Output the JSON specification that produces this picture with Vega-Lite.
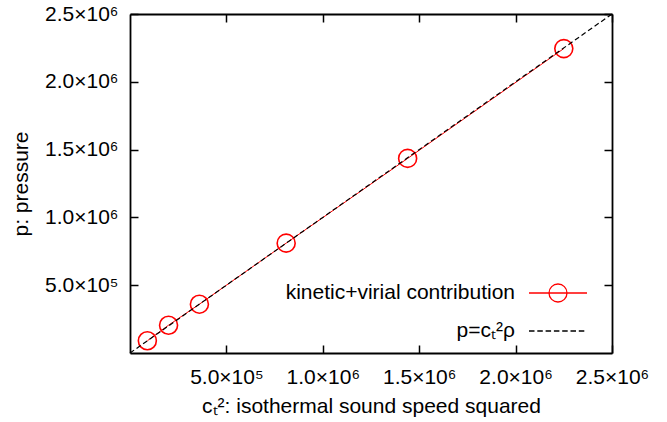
{
  "$schema": "https://vega.github.io/schema/vega-lite/v6.json",
  "autosize": {"type": "none"},
  "padding": {"left": 130, "top": 14, "right": 55, "bottom": 69},
  "width": 482,
  "height": 339,
  "background": "white",
  "datasets": {
    "pts": [
      {"c2": 90000, "p": 90000},
      {"c2": 200000, "p": 205000},
      {"c2": 360000, "p": 360000},
      {"c2": 810000, "p": 810000},
      {"c2": 1440000, "p": 1435000},
      {"c2": 2250000, "p": 2245000}
    ],
    "ref": [
      {"c2": 0, "p": 0},
      {"c2": 2500000, "p": 2500000}
    ],
    "leg": [
      {"series": "kinetic+virial contribution"},
      {"series": "p=cₜ²ρ"}
    ]
  },
  "config": {
    "view": {"stroke": null},
    "axis": {
      "grid": false,
      "domainColor": "black",
      "domainWidth": 1.8,
      "tickColor": "black",
      "tickWidth": 1.5,
      "tickSize": -8,
      "labelFont": "Liberation Sans",
      "labelFontSize": 21,
      "labelColor": "black",
      "titleFont": "Liberation Sans",
      "titleFontSize": 21,
      "titleFontWeight": "normal",
      "titleColor": "black"
    },
    "legend": {
      "labelFont": "Liberation Sans",
      "labelFontSize": 21,
      "labelColor": "black"
    }
  },
  "resolve": {"axis": {"x": "independent", "y": "independent"}},
  "layer": [
    {
      "data": {"name": "pts"},
      "mark": {"type": "line", "color": "#ff0000", "strokeWidth": 1},
      "encoding": {
        "x": {
          "field": "c2", "type": "quantitative",
          "scale": {"domain": [0, 2500000], "nice": false, "zero": false},
          "axis": {
            "orient": "bottom",
            "values": [500000, 1000000, 1500000, 2000000, 2500000],
            "labelExpr": "datum.value < 900000 ? format(datum.value/100000, '.1f') + '×10⁵' : format(datum.value/1000000, '.1f') + '×10⁶'",
            "labelBaseline": "alphabetic",
            "labelPadding": 38,
            "labelFlush": false,
            "labelOverlap": false,
            "title": "cₜ²: isothermal sound speed squared",
            "titleBaseline": "alphabetic",
            "titleY": 59
          }
        },
        "y": {
          "field": "p", "type": "quantitative",
          "scale": {"domain": [0, 2500000], "nice": false, "zero": false},
          "axis": {
            "orient": "left",
            "values": [500000, 1000000, 1500000, 2000000, 2500000],
            "labelExpr": "datum.value < 900000 ? format(datum.value/100000, '.1f') + '×10⁵' : format(datum.value/1000000, '.1f') + '×10⁶'",
            "labelPadding": 20,
            "labelFlush": false,
            "labelOverlap": false,
            "labelBaseline": "middle",
            "title": "p: pressure",
            "titleX": -109,
            "titleBaseline": "middle"
          }
        }
      }
    },
    {
      "data": {"name": "pts"},
      "mark": {"type": "point", "shape": "circle", "filled": false, "color": "#ff0000", "size": 324, "strokeWidth": 1.6, "opacity": 1},
      "encoding": {
        "x": {"field": "c2", "type": "quantitative", "axis": null},
        "y": {"field": "p", "type": "quantitative", "axis": null}
      }
    },
    {
      "data": {"name": "ref"},
      "mark": {"type": "line", "color": "black", "strokeWidth": 1.2, "strokeDash": [5, 3]},
      "encoding": {
        "x": {"field": "c2", "type": "quantitative", "axis": null},
        "y": {"field": "p", "type": "quantitative", "axis": null}
      }
    },
    {
      "data": {"name": "ref"},
      "mark": {"type": "point", "opacity": 0},
      "encoding": {
        "x": {
          "field": "c2", "type": "quantitative",
          "axis": {"orient": "top", "values": [500000, 1000000, 1500000, 2000000, 2500000], "labels": false, "title": null}
        },
        "y": {
          "field": "p", "type": "quantitative",
          "axis": {"orient": "right", "values": [500000, 1000000, 1500000, 2000000, 2500000], "labels": false, "title": null}
        }
      }
    },
    {
      "data": {"name": "leg"},
      "mark": {"type": "point", "filled": false, "opacity": 0, "size": 400, "strokeWidth": 1.3},
      "encoding": {
        "shape": {
          "field": "series", "type": "nominal",
          "scale": {
            "domain": ["kinetic+virial contribution", "p=cₜ²ρ"],
            "range": [
              "M-2.9,0H2.9M0.9,0A0.9,0.9 0 1,1 -0.9,0A0.9,0.9 0 1,1 0.9,0",
              "M-2.9,0H-2.35M-2.07,0H-1.52M-1.24,0H-0.69M-0.41,0H0.14M0.42,0H0.97M1.25,0H1.8M2.08,0H2.63"
            ]
          },
          "legend": {
            "title": null,
            "orient": "none",
            "legendX": 417,
            "legendY": 268,
            "padding": 0,
            "labelAlign": "right",
            "labelOffset": -54,
            "labelLimit": 400,
            "rowPadding": 15,
            "symbolSize": 400,
            "symbolOpacity": 1,
            "symbolStrokeWidth": 1.3,
            "symbolFillColor": "transparent"
          }
        },
        "stroke": {
          "field": "series", "type": "nominal",
          "scale": {"domain": ["kinetic+virial contribution", "p=cₜ²ρ"], "range": ["#ff0000", "#000000"]},
          "legend": null
        }
      }
    }
  ]
}
